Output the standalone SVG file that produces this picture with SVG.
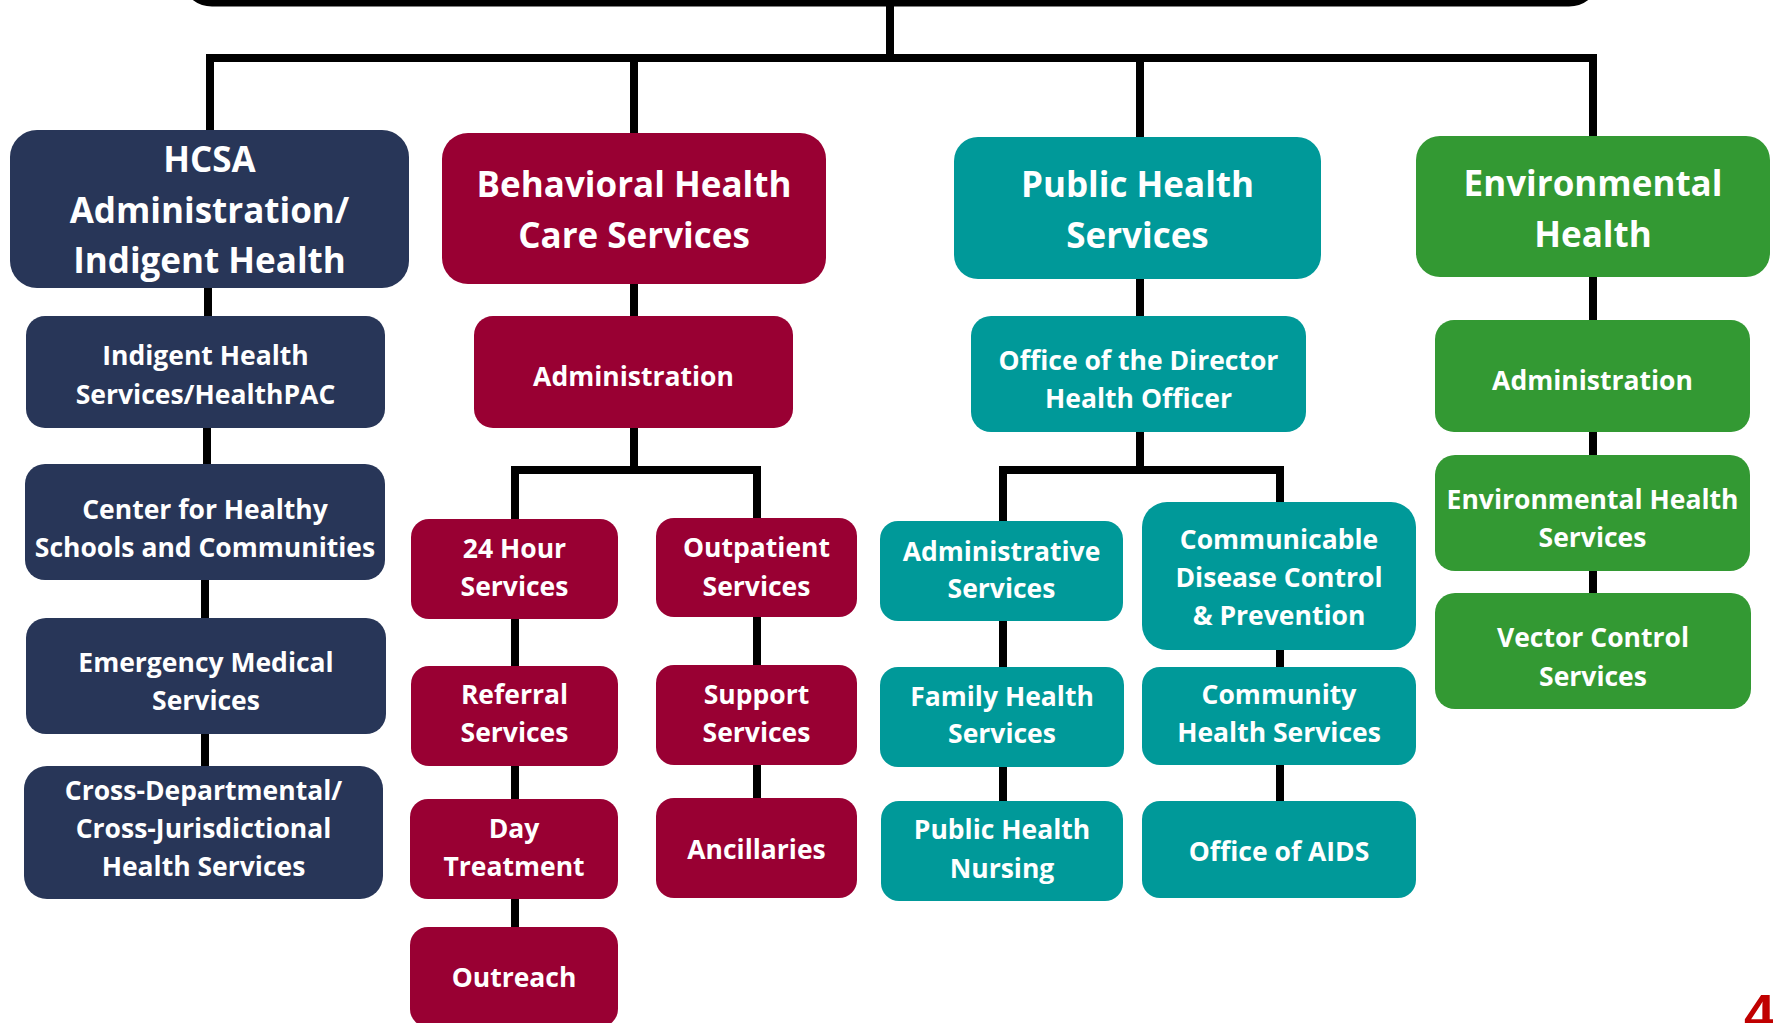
<svg xmlns="http://www.w3.org/2000/svg" width="1773" height="1023" viewBox="0 0 1773 1023">
<style>
.navy{fill:#283658}
.red{fill:#990033}
.teal{fill:#009999}
.green{fill:#339933}
text{fill:#fff;font-family:"Open Sans","Liberation Sans",sans-serif;font-weight:700;text-anchor:middle}
.h{font-size:35px}
.c{font-size:26.5px}
.conn{fill:none;stroke:#000;stroke-width:8;stroke-linejoin:miter}
</style>
<rect id="top" x="184" y="-60" width="1413" height="63" rx="28" fill="#fff" stroke="#000" stroke-width="7"/>
<g id="connectors" class="conn">
<path d="M890,3 V58"/>
<path d="M210,130 V58 H1593 V136"/>
<path d="M634,58 V133"/>
<path d="M1140,58 V137"/>
<path d="M208,288 V316"/>
<path d="M207,428 V464"/>
<path d="M205,580 V618"/>
<path d="M205,734 V766"/>
<path d="M634,284 V316"/>
<path d="M634,428 V470"/>
<path d="M515,519 V470 H757 V518"/>
<path d="M515,618 V666"/>
<path d="M515,766 V799"/>
<path d="M515,899 V927"/>
<path d="M757,617 V665"/>
<path d="M757,765 V798"/>
<path d="M1140,279 V316"/>
<path d="M1140,432 V470"/>
<path d="M1003,521 V470 H1280 V503"/>
<path d="M1003,620 V667"/>
<path d="M1003,767 V801"/>
<path d="M1280,650 V667"/>
<path d="M1280,765 V801"/>
<path d="M1593,277 V320"/>
<path d="M1593,432 V455"/>
<path d="M1593,571 V593"/>
</g>
<g id="hcsa"><rect class="navy" x="10" y="130" width="399" height="158" rx="27"/><text class="h" x="209.5" y="172">HCSA</text><text class="h" x="209.5" y="222.5">Administration/</text><text class="h" x="209.5" y="273">Indigent Health</text></g>
<g id="indigent"><rect class="navy" x="26" y="316" width="359" height="112" rx="19"/><text class="c" x="205.5" y="365">Indigent Health</text><text class="c" x="205.5" y="404">Services/HealthPAC</text></g>
<g id="center"><rect class="navy" x="25" y="464" width="360" height="116" rx="20"/><text class="c" x="205" y="519">Center for Healthy</text><text class="c" x="205" y="557">Schools and Communities</text></g>
<g id="ems"><rect class="navy" x="26" y="618" width="360" height="116" rx="20"/><text class="c" x="206" y="672">Emergency Medical</text><text class="c" x="206" y="710">Services</text></g>
<g id="cross"><rect class="navy" x="24" y="766" width="359" height="133" rx="23"/><text class="c" x="203.5" y="800">Cross-Departmental/</text><text class="c" x="203.5" y="838">Cross-Jurisdictional</text><text class="c" x="203.5" y="876">Health Services</text></g>

<g id="bhcs"><rect class="red" x="442" y="133" width="384" height="151" rx="26"/><text class="h" x="634" y="197">Behavioral Health</text><text class="h" x="634" y="248">Care Services</text></g>
<g id="bh-admin"><rect class="red" x="474" y="316" width="319" height="112" rx="19"/><text class="c" x="633.5" y="386">Administration</text></g>
<g id="h24"><rect class="red" x="411" y="519" width="207" height="100" rx="18"/><text class="c" x="514.5" y="558">24 Hour</text><text class="c" x="514.5" y="596">Services</text></g>
<g id="outpatient"><rect class="red" x="656" y="518" width="201" height="99" rx="18"/><text class="c" x="756.5" y="557">Outpatient</text><text class="c" x="756.5" y="596">Services</text></g>
<g id="referral"><rect class="red" x="411" y="666" width="207" height="100" rx="18"/><text class="c" x="514.5" y="704">Referral</text><text class="c" x="514.5" y="742">Services</text></g>
<g id="support"><rect class="red" x="656" y="665" width="201" height="100" rx="18"/><text class="c" x="756.5" y="704">Support</text><text class="c" x="756.5" y="742">Services</text></g>
<g id="day"><rect class="red" x="410" y="799" width="208" height="100" rx="18"/><text class="c" x="514" y="838">Day</text><text class="c" x="514" y="876">Treatment</text></g>
<g id="ancillaries"><rect class="red" x="656" y="798" width="201" height="100" rx="18"/><text class="c" x="756.5" y="859">Ancillaries</text></g>
<g id="outreach"><rect class="red" x="410" y="927" width="208" height="100" rx="18"/><text class="c" x="514" y="987">Outreach</text></g>

<g id="phs"><rect class="teal" x="954" y="137" width="367" height="142" rx="24"/><text class="h" x="1137.5" y="197">Public Health</text><text class="h" x="1137.5" y="248">Services</text></g>
<g id="director"><rect class="teal" x="971" y="316" width="335" height="116" rx="20"/><text class="c" x="1138.5" y="370">Office of the Director</text><text class="c" x="1138.5" y="408">Health Officer</text></g>
<g id="admin-services"><rect class="teal" x="880" y="521" width="243" height="100" rx="18"/><text class="c" x="1001.5" y="561">Administrative</text><text class="c" x="1001.5" y="598">Services</text></g>
<g id="communicable"><rect class="teal" x="1142" y="502" width="274" height="148" rx="25"/><text class="c" x="1279" y="549">Communicable</text><text class="c" x="1279" y="587">Disease Control</text><text class="c" x="1279" y="625">&amp; Prevention</text></g>
<g id="family"><rect class="teal" x="880" y="667" width="244" height="100" rx="18"/><text class="c" x="1002" y="706">Family Health</text><text class="c" x="1002" y="743">Services</text></g>
<g id="community"><rect class="teal" x="1142" y="667" width="274" height="98" rx="18"/><text class="c" x="1279" y="704">Community</text><text class="c" x="1279" y="742">Health Services</text></g>
<g id="phn"><rect class="teal" x="881" y="801" width="242" height="100" rx="18"/><text class="c" x="1002" y="839">Public Health</text><text class="c" x="1002" y="878">Nursing</text></g>
<g id="aids"><rect class="teal" x="1142" y="801" width="274" height="97" rx="18"/><text class="c" x="1279" y="861">Office of AIDS</text></g>

<g id="eh"><rect class="green" x="1416" y="136" width="354" height="141" rx="24"/><text class="h" x="1593" y="196">Environmental</text><text class="h" x="1593" y="247">Health</text></g>
<g id="eh-admin"><rect class="green" x="1435" y="320" width="315" height="112" rx="19"/><text class="c" x="1592.5" y="390">Administration</text></g>
<g id="eh-services"><rect class="green" x="1435" y="455" width="315" height="116" rx="20"/><text class="c" x="1592.5" y="509">Environmental Health</text><text class="c" x="1592.5" y="547">Services</text></g>
<g id="vector"><rect class="green" x="1435" y="593" width="316" height="116" rx="20"/><text class="c" x="1593" y="647">Vector Control</text><text class="c" x="1593" y="686">Services</text></g>

<text x="1744" y="1033" style="fill:#c00000;font-family:'Liberation Sans',sans-serif;font-size:56px;font-weight:700;text-anchor:start">4</text>
</svg>
